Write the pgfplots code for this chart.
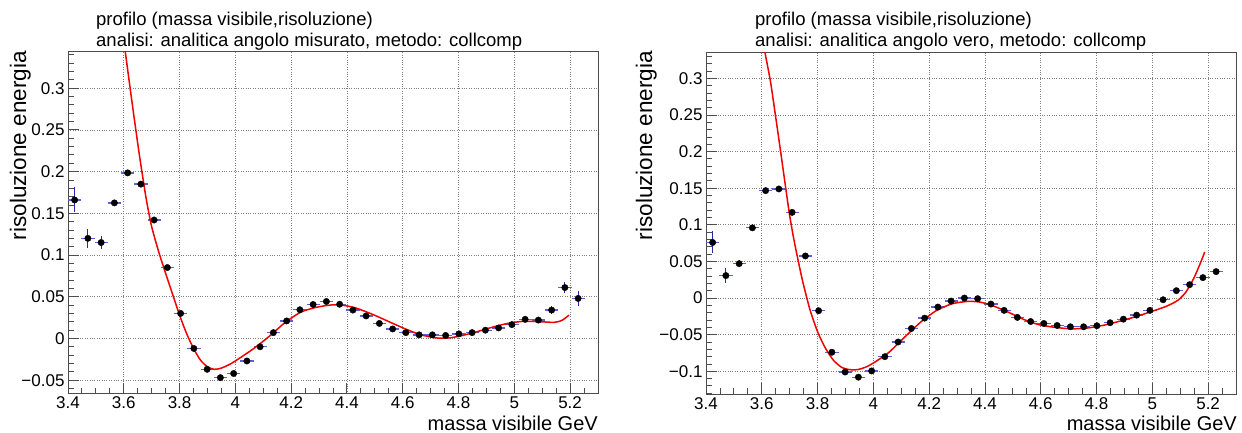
\documentclass[border=0pt]{standalone}
\usepackage{pgfplots}
\pgfplotsset{compat=1.18}
\usepackage{pgfplotstable}
\usepackage{fontspec}
\setmainfont{Liberation Sans}

\definecolor{errdark}{RGB}{40,40,175}
\definecolor{errlight}{RGB}{95,95,215}
\definecolor{rootred}{RGB}{240,0,0}

\pgfplotstableread{
x y ex ey
3.42375 0.166 0.02375 0.015
3.47125 0.120 0.02375 0.011
3.51875 0.115 0.02375 0.008
3.56625 0.1625 0.02375 0.004
3.61375 0.1985 0.02375 0.002
3.66125 0.185 0.02375 0.003
3.70875 0.142 0.02375 0.002
3.75625 0.085 0.02375 0.002
3.80375 0.030 0.02375 0.002
3.85125 -0.012 0.02375 0.002
3.89875 -0.037 0.02375 0.002
3.94625 -0.047 0.02375 0.002
3.99375 -0.042 0.02375 0.002
4.04125 -0.027 0.02375 0.002
4.08875 -0.010 0.02375 0.002
4.13625 0.007 0.02375 0.002
4.18375 0.021 0.02375 0.002
4.23125 0.0344 0.02375 0.002
4.27875 0.0407 0.02375 0.002
4.32625 0.0443 0.02375 0.002
4.37375 0.041 0.02375 0.002
4.42125 0.034 0.02375 0.002
4.46875 0.027 0.02375 0.002
4.51625 0.018 0.02375 0.002
4.56375 0.0114 0.02375 0.002
4.61125 0.007 0.02375 0.002
4.65875 0.0043 0.02375 0.002
4.70625 0.0043 0.02375 0.002
4.75375 0.0036 0.02375 0.002
4.80125 0.0055 0.02375 0.002
4.84875 0.007 0.02375 0.002
4.89625 0.0099 0.02375 0.002
4.94375 0.0126 0.02375 0.002
4.99125 0.0166 0.02375 0.002
5.03875 0.0229 0.02375 0.002
5.08625 0.022 0.02375 0.002
5.13375 0.034 0.02375 0.005
5.18125 0.061 0.02375 0.0065
5.22875 0.048 0.02375 0.009
}\leftdata

\pgfplotstableread{
x y
3.603 0.350
3.606 0.342
3.630 0.282
3.655 0.222
3.680 0.168
3.700 0.134
3.725 0.104
3.750 0.078
3.775 0.053
3.800 0.028
3.825 0.006
3.850 -0.012
3.875 -0.026
3.900 -0.034
3.925 -0.037
3.950 -0.0355
3.980 -0.031
4.009 -0.025
4.065 -0.0123
4.122 0.0027
4.179 0.0193
4.235 0.0316
4.292 0.0375
4.349 0.0403
4.391 0.0395
4.434 0.0363
4.491 0.029
4.548 0.0205
4.604 0.0122
4.661 0.0047
4.718 0.0007
4.760 0.0004
4.803 0.0027
4.860 0.0075
4.916 0.013
4.973 0.0178
5.030 0.0205
5.086 0.0202
5.143 0.0193
5.171 0.0217
5.196 0.028
}\leftfit

\pgfplotstableread{
x y ex ey
3.42375 0.0759 0.02375 0.015
3.47125 0.0307 0.02375 0.010
3.51875 0.047 0.02375 0.005
3.56625 0.0959 0.02375 0.002
3.61375 0.1467 0.02375 0.002
3.66125 0.149 0.02375 0.002
3.70875 0.117 0.02375 0.002
3.75625 0.0575 0.02375 0.002
3.80375 -0.0173 0.02375 0.002
3.85125 -0.074 0.02375 0.002
3.89875 -0.101 0.02375 0.002
3.94625 -0.108 0.02375 0.002
3.99375 -0.0995 0.02375 0.002
4.04125 -0.080 0.02375 0.002
4.08875 -0.060 0.02375 0.002
4.13625 -0.0415 0.02375 0.002
4.18375 -0.0274 0.02375 0.002
4.23125 -0.0123 0.02375 0.002
4.27875 -0.0041 0.02375 0.002
4.32625 0.0 0.02375 0.002
4.37375 -0.0008 0.02375 0.002
4.42125 -0.0082 0.02375 0.002
4.46875 -0.0168 0.02375 0.002
4.51625 -0.0264 0.02375 0.002
4.56375 -0.032 0.02375 0.002
4.61125 -0.0347 0.02375 0.002
4.65875 -0.0374 0.02375 0.002
4.70625 -0.0392 0.02375 0.002
4.75375 -0.0392 0.02375 0.002
4.80125 -0.0378 0.02375 0.002
4.84875 -0.0337 0.02375 0.002
4.89625 -0.0288 0.02375 0.002
4.94375 -0.0233 0.02375 0.002
4.99125 -0.0168 0.02375 0.002
5.03875 -0.0023 0.02375 0.002
5.08625 0.0101 0.02375 0.002
5.13375 0.0183 0.02375 0.002
5.18125 0.0279 0.02375 0.002
5.22875 0.0361 0.02375 0.002
}\rightdata

\pgfplotstableread{
x y
3.607 0.345
3.614 0.330
3.631 0.296
3.648 0.252
3.666 0.204
3.684 0.155
3.699 0.115
3.716 0.078
3.744 0.027
3.772 -0.015
3.801 -0.047
3.829 -0.069
3.857 -0.085
3.886 -0.0945
3.914 -0.0977
3.943 -0.0977
3.971 -0.0945
3.999 -0.089
4.056 -0.074
4.113 -0.053
4.169 -0.033
4.226 -0.017
4.283 -0.0077
4.340 -0.0045
4.382 -0.0055
4.425 -0.010
4.482 -0.019
4.538 -0.029
4.595 -0.0365
4.652 -0.040
4.709 -0.042
4.765 -0.041
4.822 -0.0374
4.879 -0.032
4.935 -0.026
4.992 -0.019
5.049 -0.0114
5.091 -0.0032
5.120 0.008
5.148 0.0265
5.169 0.0447
5.188 0.063
}\rightfit

\pgfplotsset{rootstyle/.style={
  scale only axis, width=530pt, height=342pt, anchor=south west,
  xmin=3.4, xmax=5.3,
  xtick={3.4,3.6,3.8,4,4.2,4.4,4.6,4.8,5,5.2},
  xticklabels={3.4,3.6,3.8,4,4.2,4.4,4.6,4.8,5,5.2},
  minor xtick={3.45,3.5,3.55,3.65,3.7,3.75,3.85,3.9,3.95,4.05,4.1,4.15,4.25,4.3,4.35,4.45,4.5,4.55,4.65,4.7,4.75,4.85,4.9,4.95,5.05,5.1,5.15,5.25},
  tick align=inside, tick pos=left,
  major tick length=11pt, minor tick length=6pt,
  grid=major,
  major grid style={dotted, black!50, line width=0.7pt},
  axis line style={black!70, line width=1pt},
  tick style={black!70, line width=0.9pt},
  tick label style={font=\fontsize{17}{17}\selectfont},
  clip=true,
}}

\begin{document}
\begin{tikzpicture}[x=1pt,y=1pt]
\path (0,0) rectangle (1242,432);

\begin{axis}[rootstyle, name=L, at={(68pt,38.5pt)},
  ymin=-0.066, ymax=0.344,
  ytick={-0.05,0,0.05,0.1,0.15,0.2,0.25,0.3},
  yticklabels={−0.05,0,0.05,0.1,0.15,0.2,0.25,0.3},
  minor ytick={-0.06,-0.04,-0.03,-0.02,-0.01,0.01,0.02,0.03,0.04,0.06,0.07,0.08,0.09,0.11,0.12,0.13,0.14,0.16,0.17,0.18,0.19,0.21,0.22,0.23,0.24,0.26,0.27,0.28,0.29,0.31,0.32,0.33,0.34},
]
\addplot[only marks, mark=none, forget plot,
  error bars/.cd, x dir=both, x explicit, error mark=none,
  error bar style={color=errlight, line width=1.3pt}]
  table[x=x, y=y, x error=ex] {\leftdata};
\addplot[only marks, mark=*, mark size=3.2pt, black, mark options={fill=black},
  error bars/.cd, y dir=both, y explicit, error mark=none,
  error bar style={color=errdark, line width=1pt}]
  table[x=x, y=y, y error=ey] {\leftdata};
\addplot[rootred, line width=1.5pt, smooth, tension=0.4, no marks] table[x=x,y=y] {\leftfit};
\end{axis}

\begin{axis}[rootstyle, name=R, at={(706pt,38pt)},
  ymin=-0.131, ymax=0.336,
  ytick={-0.1,-0.05,0,0.05,0.1,0.15,0.2,0.25,0.3},
  yticklabels={−0.1,−0.05,0,0.05,0.1,0.15,0.2,0.25,0.3},
  minor ytick={-0.13,-0.12,-0.11,-0.09,-0.08,-0.07,-0.06,-0.04,-0.03,-0.02,-0.01,0.01,0.02,0.03,0.04,0.06,0.07,0.08,0.09,0.11,0.12,0.13,0.14,0.16,0.17,0.18,0.19,0.21,0.22,0.23,0.24,0.26,0.27,0.28,0.29,0.31,0.32,0.33},
]
\addplot[only marks, mark=none, forget plot,
  error bars/.cd, x dir=both, x explicit, error mark=none,
  error bar style={color=errlight, line width=1.3pt}]
  table[x=x, y=y, x error=ex] {\rightdata};
\addplot[only marks, mark=*, mark size=3.2pt, black, mark options={fill=black},
  error bars/.cd, y dir=both, y explicit, error mark=none,
  error bar style={color=errdark, line width=1pt}]
  table[x=x, y=y, y error=ey] {\rightdata};
\addplot[rootred, line width=1.5pt, smooth, tension=0.4, no marks] table[x=x,y=y] {\rightfit};
\end{axis}

% titles
\node[anchor=base west, inner sep=0pt, font=\fontsize{18.5}{18.5}\selectfont] at (96,406) {profilo (massa visibile,risoluzione)};
\node[anchor=base west, inner sep=0pt, font=\fontsize{18.5}{18.5}\selectfont] at (96,385) {analisi: analitica angolo misurato, metodo: collcomp};
\node[anchor=base west, inner sep=0pt, font=\fontsize{18.5}{18.5}\selectfont] at (755,406) {profilo (massa visibile,risoluzione)};
\node[anchor=base west, inner sep=0pt, font=\fontsize{18.5}{18.5}\selectfont] at (755,385) {analisi: analitica angolo vero, metodo: collcomp};
% axis labels
\node[anchor=base east, inner sep=0pt, font=\fontsize{20}{20}\selectfont] at (598,2) {massa visibile GeV};
\node[anchor=base east, inner sep=0pt, font=\fontsize{20}{20}\selectfont] at (1237,2) {massa visibile GeV};
\node[anchor=base east, rotate=90, inner sep=0pt, font=\fontsize{22.5}{22.5}\selectfont] at (26,381) {risoluzione energia};
\node[anchor=base east, rotate=90, inner sep=0pt, font=\fontsize{22.5}{22.5}\selectfont] at (652,381) {risoluzione energia};
\end{tikzpicture}
\end{document}
